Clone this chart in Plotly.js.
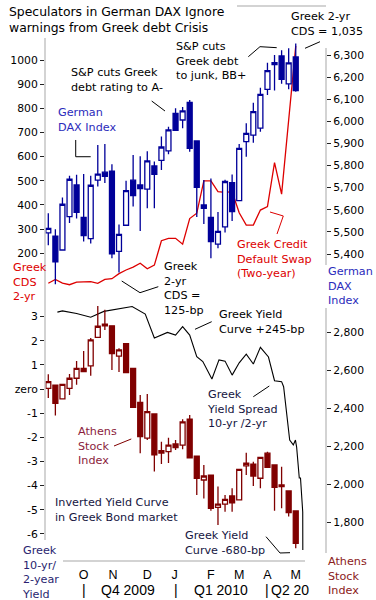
<!DOCTYPE html>
<html><head><meta charset="utf-8">
<script src="https://cdn.plot.ly/plotly-3.0.1.min.js"></script>
<style>html,body{margin:0;padding:0;background:#fff}#chart{width:376px;height:600px}</style>
</head><body><div id="chart"></div>
<script>
// ---- data ----
const weeks = ['2009-08-28','2009-09-04','2009-09-11','2009-09-18','2009-09-25','2009-10-02','2009-10-09','2009-10-16','2009-10-23','2009-10-30','2009-11-06','2009-11-13','2009-11-20','2009-11-27','2009-12-04','2009-12-11','2009-12-18','2009-12-25','2010-01-01','2010-01-08','2010-01-15','2010-01-22','2010-01-29','2010-02-05','2010-02-12','2010-02-19','2010-02-26','2010-03-05','2010-03-12','2010-03-19','2010-03-26','2010-04-02','2010-04-09','2010-04-16','2010-04-23','2010-04-30'];
const daxOpen  = [5496,5481,5418,5569,5712,5566,5470,5734,5770,5775,5412,5530,5734,5712,5693,5798,5823,5866,6036,6006,6086,5911,5622,5566,5445,5523,5723,5641,5908,5938,5969,6145,6257,6296,6169,6291];
const daxHigh  = [5584,5512,5655,5754,5758,5762,5754,5893,5897,5806,5533,5731,5848,5842,5865,5818,5931,5976,6059,6065,6097,5911,5735,5742,5590,5736,5759,5898,5991,6084,6152,6265,6300,6321,6330,6352];
const daxLow   = [5440,5263,5418,5540,5561,5457,5447,5705,5721,5381,5316,5530,5615,5504,5607,5607,5780,5851,5959,5969,5863,5567,5536,5381,5426,5497,5549,5641,5840,5903,5953,6119,6140,6170,6145,6134];
const daxClose = [5516,5365,5625,5738,5588,5483,5711,5761,5751,5401,5489,5687,5664,5696,5821,5760,5884,5961,5959,6047,5878,5702,5607,5456,5502,5728,5592,5878,5946,6044,6122,6229,6265,6190,6264,6139];
const greekCds = [76,92,77,70,81,81,83,76,92,95,116,131,143,159,136,151,252,262,262,238,344,366,500,500,455,452,455,368,317,317,379,393,575,445,764,1058];
const athOpen  = [2507,2524,2451,2507,2560,2612,2625,2775,2845,2836,2677,2742,2612,2433,2245,2372,2178,2173,2214,2208,2344,2150,2024,2050,1880,1897,1940,1919,2098,2108,2033,2165,2103,1998,1966,1861];
const athHigh  = [2581,2524,2528,2582,2651,2704,2772,2941,2921,2836,2718,2744,2612,2472,2477,2372,2226,2247,2235,2344,2366,2150,2103,2050,1989,1945,1980,2080,2168,2120,2143,2173,2103,2094,1966,1861];
const athLow   = [2456,2364,2451,2472,2526,2595,2573,2775,2814,2603,2593,2590,2406,2165,2235,2068,2108,2113,2182,2186,2141,1945,1927,1862,1787,1857,1857,1919,2050,1992,1980,2091,1862,1875,1831,1664];
const athClose = [2542,2428,2528,2560,2612,2595,2762,2834,2836,2690,2709,2590,2406,2252,2384,2156,2166,2208,2195,2330,2141,2033,2045,1875,1897,1922,1904,2080,2112,2045,2143,2091,1985,1989,1852,1690];
const yieldDates = ['2009-09-06','2009-09-11','2009-09-25','2009-10-09','2009-10-22','2009-11-19','2009-12-02','2009-12-11','2009-12-24','2010-01-01','2010-01-08','2010-01-15','2010-01-22','2010-01-28','2010-02-06','2010-02-13','2010-02-19','2010-02-26','2010-03-05','2010-03-12','2010-03-19','2010-03-26','2010-04-03','2010-04-09','2010-04-16','2010-04-18','2010-04-24','2010-04-27 14:00','2010-04-29 17:00','2010-04-30 21:00','2010-05-03 12:00','2010-05-04 17:00','2010-05-06 22:00','2010-05-07'];
const yieldSpread = [3.19,3.24,3.13,2.98,3.22,3.42,3.11,2.12,2.35,2.24,2.59,2.24,1.34,1.14,0.42,1.21,1.16,0.58,1.09,1.45,1.04,1.73,1.33,0.35,0.31,0.10,-2.11,-2.31,-2.11,-2.40,-3.68,-3.68,-5.09,-6.66];
const monthTickDates = ['2009-10-02','2009-10-31','2009-12-04','2009-12-31','2010-02-05','2010-03-05','2010-04-02','2010-04-30'];
const monthLabels = ['O','N','D','J','F','M','A','M'];
const quarterLabels = ['Q4 2009','Q1 2010','Q2 20'];
const quarterCenters = ['2009-11-15','2010-02-15'];
const quarterStarts = ['2009-10-02','2010-01-01','2010-04-02'];
const cdsTicks = [200,300,400,500,600,700,800,900,1000];
const daxTicks = [5400,5500,5600,5700,5800,5900,6000,6100,6200,6300];
const yieldTicks = [3,2,1,0,-1,-2,-3,-4,-5,-6];
const yieldTickText = ['3','2','1','zero','-1','-2','-3','-4','-5','-6'];
const athTicks = [1800,2000,2200,2400,2600,2800];

// ---- geometry helpers ----
const W=376,H=600,L=45,R=50,T=38,B=39;
const PW=W-L-R, PH=H-T-B;
const px=x=>(x-L)/PW, py=y=>(H-B-y)/PH;
const fmt=v=>v.toLocaleString('en-US');

const NAVY='#000099', MAROON='#800000', RED='#dd0000', BLUE='#2b2bbb', DARK='#16163f', GREY='#c4c4c4';
const FONT='DejaVu Sans';

const annotations=[], shapes=[];
function label(lines,x,baselines,color,size){
  size=size||11.2;
  const mid=(baselines[0]+baselines[baselines.length-1])/2-0.36*size;
  annotations.push({xref:'paper',yref:'paper',x:px(x),y:py(mid),xanchor:'left',yanchor:'middle',align:'left',
    text:lines.join('<br>'),showarrow:false,borderpad:0,font:{family:FONT,size:size,color:color}});
}
function pline(pts,color,width){
  const d=pts.map((p,i)=>(i?'L':'M')+px(p[0]).toFixed(4)+','+py(p[1]).toFixed(4)).join(' ');
  shapes.push({type:'path',xref:'paper',yref:'paper',path:d,line:{color:color,width:width||1}});
}

// frame lines
pline([[45,38],[45,540]],GREY,1.5);
pline([[326,48],[326,265]],GREY,1.5);
pline([[326,308],[326,553]],GREY,1.5);
pline([[63,561],[305,561]],GREY,1.5);
pline([[237,6],[326,6]],GREY,1.5);

// texts
label(['Speculators in German DAX Ignore','warnings from Greek debt Crisis'],8,[17.5,30.5],'#000',12.4);
label(['S&amp;P cuts Greek','debt rating to A-'],70,[78,90.5],'#000');
label(['S&amp;P cuts','Greek debt','to junk, BB+'],175,[52.5,65,77],'#000');
label(['Greek 2-yr','CDS = 1,035'],289.5,[22,34.7],'#000');
label(['German','DAX Index'],56.7,[117.5,130.2],BLUE);
label(['Greek','CDS','2-yr'],11.5,[273,286,298.5],RED);
label(['Greek','2-yr','CDS =','125-bp'],162.7,[273.5,286.5,299.5,311.5],'#000');
label(['Greek Credit','Default Swap','(Two-year)'],236,[249.3,262.5,276],RED);
label(['German','DAX','Index'],326.7,[277,290,302.5],BLUE);
label(['Greek Yield','Curve +245-bp'],218.3,[319.3,332],'#000');
label(['Greek','Yield Spread','10-yr /2-yr'],206,[400.3,413,426.3],DARK);
label(['Athens','Stock','Index'],77.3,[437,449.5,463],'#8b1c3c');
label(['Inverted Yield Curve','in Greek Bond market'],54.3,[507,520.3],DARK);
label(['Greek Yield','Curve -680-bp'],184,[540.3,553.7],DARK);
label(['Greek','10-yr/','2-year','Yield'],21,[557,570.3,583.7,596],'#2a1f70');
label(['Athens','Stock','Index'],326.7,[567,579.7,592.7],'#8b2020');

// pointer lines
pline([[151.7,101],[165,111]],'#000');
pline([[248.3,56.7],[260,46.7],[276.7,47.7]],'#000');
pline([[305,48.3],[320,41.7]],'#000');
pline([[75.7,140],[75.7,156.7],[90.7,156.7]],'#000');
pline([[121.7,281],[140,292.7],[158.3,286.7]],'#000');
pline([[270,212],[283.3,216],[277,234]],RED);
pline([[195,329.3],[211.7,321.7]],'#000');
pline([[253.3,396.7],[269.3,386]],'#000');
pline([[114,446],[131.3,439]],MAROON);
pline([[266,536.7],[280,553],[290,552.7]],'#000');

// quarter row
const QF={family:'Liberation Sans',size:14,color:'#000'};
quarterStarts.forEach(d=>annotations.push({xref:'x',yref:'paper',x:d,y:py(590),xanchor:'center',yanchor:'middle',text:'|',showarrow:false,borderpad:0,font:QF}));
quarterCenters.forEach((d,i)=>annotations.push({xref:'x',yref:'paper',x:d,y:py(590),xanchor:'center',yanchor:'middle',text:quarterLabels[i],showarrow:false,borderpad:0,font:QF}));
annotations.push({xref:'x',yref:'paper',x:quarterStarts[2],y:py(590),xanchor:'left',xshift:3,yanchor:'middle',text:quarterLabels[2],showarrow:false,borderpad:0,font:QF});

const candleStyle=c=>({increasing:{line:{color:c,width:1.3},fillcolor:'#ffffff'},decreasing:{line:{color:c,width:1.3},fillcolor:c},whiskerwidth:0});

const traces=[
  {type:'scatter',mode:'lines',x:weeks,y:greekCds,xaxis:'x',yaxis:'y',line:{color:RED,width:1.3},hoverinfo:'skip'},
  Object.assign({type:'candlestick',x:weeks,open:daxOpen,high:daxHigh,low:daxLow,close:daxClose,xaxis:'x',yaxis:'y2',hoverinfo:'skip'},candleStyle(NAVY)),
  {type:'scatter',mode:'lines',x:yieldDates,y:yieldSpread,xaxis:'x',yaxis:'y3',line:{color:'#000',width:1.1},hoverinfo:'skip'},
  Object.assign({type:'candlestick',x:weeks,open:athOpen,high:athHigh,low:athLow,close:athClose,xaxis:'x',yaxis:'y4',hoverinfo:'skip'},candleStyle(MAROON))
];

const TF={family:FONT,size:10.8,color:'#000'};
const yBase={showgrid:false,zeroline:false,showline:false,ticks:'outside',ticklen:4,tickwidth:1,tickcolor:'#222',tickfont:TF,fixedrange:true};
const layout={
  width:W,height:H,margin:{l:L,r:R,t:T,b:B},paper_bgcolor:'#fff',plot_bgcolor:'#fff',showlegend:false,
  boxgap:0.3,boxgroupgap:0,
  xaxis:{type:'date',range:['2009-08-24 17:30','2010-05-29 23:00'],anchor:'y3',domain:[0,1],showgrid:false,zeroline:false,showline:false,
    tickvals:monthTickDates,ticktext:monthLabels,ticks:'',ticklabelstandoff:4,tickfont:{family:'Liberation Sans',size:12.5,color:'#000'},rangeslider:{visible:false}},
  yaxis:Object.assign({},yBase,{domain:[py(290),1],anchor:'x',side:'left',range:[48.1,1091.3],tickvals:cdsTicks,ticktext:cdsTicks.map(String)}),
  yaxis2:Object.assign({},yBase,{overlaying:'y',anchor:'x',side:'right',range:[5237.2,6376.9],tickvals:daxTicks,ticktext:daxTicks.map(fmt)}),
  yaxis3:Object.assign({},yBase,{domain:[0,py(295)],anchor:'x',side:'left',range:[-7.12,3.899],tickvals:yieldTicks,ticktext:yieldTickText}),
  yaxis4:Object.assign({},yBase,{overlaying:'y3',anchor:'x',side:'right',range:[1597.1,2998.6],tickvals:athTicks,ticktext:athTicks.map(fmt)}),
  annotations:annotations,shapes:shapes
};
Plotly.newPlot('chart',traces,layout,{staticPlot:true,displayModeBar:false});
</script></body></html>
